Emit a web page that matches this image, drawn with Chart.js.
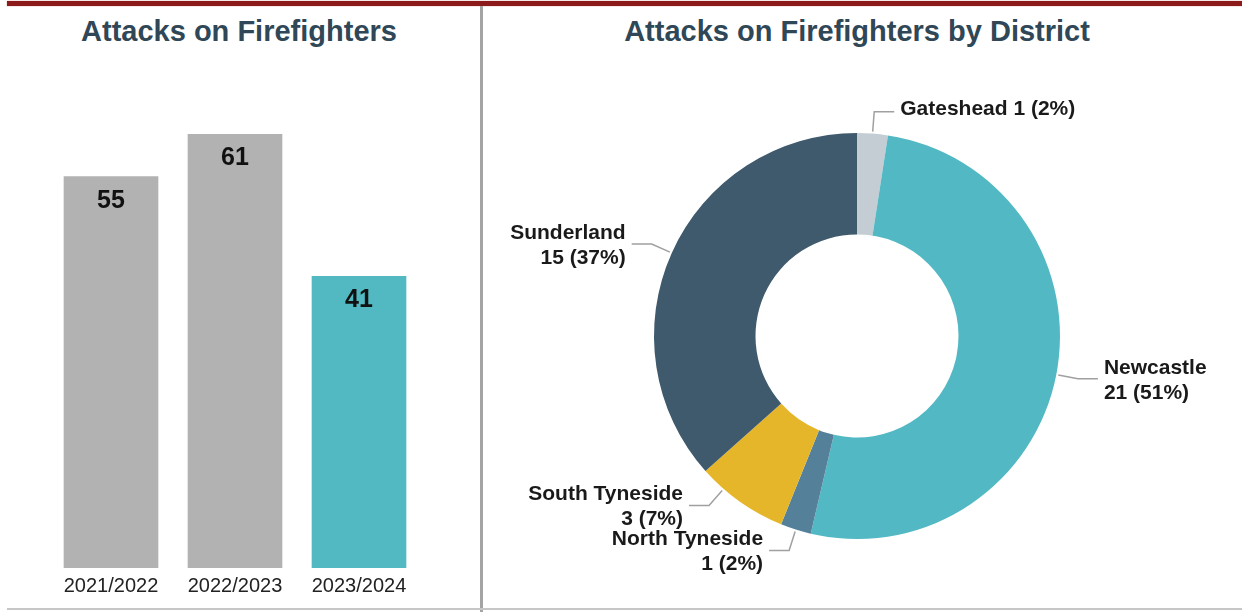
<!DOCTYPE html>
<html>
<head>
<meta charset="utf-8">
<title>Attacks on Firefighters</title>
<script src="https://cdn.jsdelivr.net/npm/chart.js"></script>
<style>
  body { margin: 0; background: #fff; font-family: "Liberation Sans", Arial, sans-serif; }
  #page { position: relative; width: 1242px; height: 612px; overflow: hidden; }
  .topbar { position: absolute; left: 7px; right: 0; top: 1px; height: 5px; background: #8c1a1a; box-shadow: 0 0 1px #c77; }
  .divider { position: absolute; left: 480px; top: 6px; width: 3px; height: 606px; background: #a4a4a4; }
  .bottomline { position: absolute; left: 7px; right: 0; top: 608px; height: 2px; background: #c6c6c6; }
  .title { position: absolute; top: 15px; height: 34px; line-height: 34px; text-align: center;
           font: bold 29px "Liberation Sans", Arial, sans-serif; color: #2f4756; }
  .box { position: absolute; top: 0; height: 612px; }
</style>
</head>
<body>
<div id="page">
  <div class="topbar"></div>
  <div class="divider"></div>
  <div class="bottomline"></div>
  <div class="title" style="left:0;width:478px;">Attacks on Firefighters</div>
  <div class="title" style="left:484px;width:746px;">Attacks on Firefighters by District</div>
  <div class="box" style="left:0;width:478px;"><canvas id="years"></canvas></div>
  <div class="box" style="left:484px;width:758px;"><canvas id="districts"></canvas></div>
</div>
<script>
// данные: нападения по годам
const years = ['2021/2022', '2022/2023', '2023/2024'];
const attacks = [55, 61, 41];
const barColours = ['#b2b2b2', '#b2b2b2', '#52b9c3'];

// данные: нападения по районам
const districts = ['Gateshead', 'Newcastle', 'North Tyneside', 'South Tyneside', 'Sunderland'];
const districtAttacks = [1, 21, 1, 3, 15];
const districtColours = ['#c3cdd3', '#52b9c4', '#55809a', '#e6b62a', '#3f5a6d'];
// сдвиг выноски (в градусах) там, где в оригинале она не по центру сектора
const leaderShift = [0, 0, 0, 6, 0];

const FONT = '"Liberation Sans", Arial, sans-serif';

// подписи значений внутри столбцов
const barValues = {
  id: 'barValues',
  afterDatasetsDraw(chart) {
    const ctx = chart.ctx;
    const meta = chart.getDatasetMeta(0);
    ctx.save();
    ctx.font = 'bold 25px ' + FONT;
    ctx.fillStyle = '#111';
    ctx.textAlign = 'center';
    ctx.textBaseline = 'middle';
    meta.data.forEach((bar, i) => {
      ctx.fillText(chart.data.datasets[0].data[i], bar.x, bar.y + 24);
    });
    ctx.restore();
  },
};

// выноски и подписи для кольцевой диаграммы
const sliceLabels = {
  id: 'sliceLabels',
  afterDraw(chart) {
    const ctx = chart.ctx;
    const meta = chart.getDatasetMeta(0);
    const data = chart.data.datasets[0].data;
    const total = data.reduce((a, b) => a + b, 0);
    ctx.save();
    ctx.font = 'bold 21px ' + FONT;
    ctx.fillStyle = '#1a1a1a';
    ctx.strokeStyle = '#a0a0a0';
    ctx.lineWidth = 1.5;
    ctx.textBaseline = 'middle';
    meta.data.forEach((arc, i) => {
      const p = arc.getProps(['x', 'y', 'startAngle', 'endAngle', 'outerRadius'], true);
      const a = (p.startAngle + p.endAngle) / 2 + leaderShift[i] * Math.PI / 180;
      const cos = Math.cos(a), sin = Math.sin(a);
      const r = p.outerRadius;
      const x0 = p.x + (r + 2) * cos, y0 = p.y + (r + 2) * sin;
      const x1 = p.x + (r + 22) * cos, y1 = p.y + (r + 22) * sin;
      const dir = cos >= 0 ? 1 : -1;
      const x2 = x1 + dir * 20;
      ctx.beginPath();
      ctx.moveTo(x0, y0);
      ctx.lineTo(x1, y1);
      ctx.lineTo(x2, y1);
      ctx.stroke();

      const pct = Math.round((data[i] / total) * 100);
      const value = data[i] + ' (' + pct + '%)';
      ctx.textAlign = dir > 0 ? 'left' : 'right';
      const tx = x2 + dir * 6;
      if (i === 0) {
        ctx.fillText(districts[i] + ' ' + value, tx, y1 - 2);
      } else {
        ctx.fillText(districts[i], tx, y1 - 11);
        ctx.fillText(value, tx, y1 + 14);
      }
    });
    ctx.restore();
  },
};

const yearsChart = new Chart(document.getElementById('years').getContext('2d'), {
  type: 'bar',
  data: {
    labels: years,
    datasets: [
      {
        label: 'Attacks on Firefighters',
        data: attacks,
        backgroundColor: barColours,
        barThickness: 94,
      },
    ],
  },
  options: {
    responsive: true,
    maintainAspectRatio: false,
    animation: false,
    layout: { padding: { top: 134, left: 49, right: 57, bottom: 8 } },
    plugins: { legend: { display: false }, tooltip: { enabled: false } },
    scales: {
      x: {
        grid: { display: false, drawTicks: false },
        border: { display: false },
        ticks: { color: '#222', padding: 6, font: { family: FONT, size: 20 } },
      },
      y: { display: false, min: 0, max: Math.max(...attacks) },
    },
  },
  plugins: [barValues],
});

const districtChart = new Chart(document.getElementById('districts').getContext('2d'), {
  type: 'doughnut',
  data: {
    labels: districts,
    datasets: [
      {
        label: 'Attacks on Firefighters by District',
        data: districtAttacks,
        backgroundColor: districtColours,
        borderWidth: 0,
        hoverOffset: 0,
      },
    ],
  },
  options: {
    responsive: true,
    maintainAspectRatio: false,
    animation: false,
    cutout: '50%',
    layout: { padding: { top: 133, bottom: 73, left: 170, right: 182 } },
    plugins: { legend: { display: false }, tooltip: { enabled: false } },
  },
  plugins: [sliceLabels],
});
</script>
</body>
</html>
